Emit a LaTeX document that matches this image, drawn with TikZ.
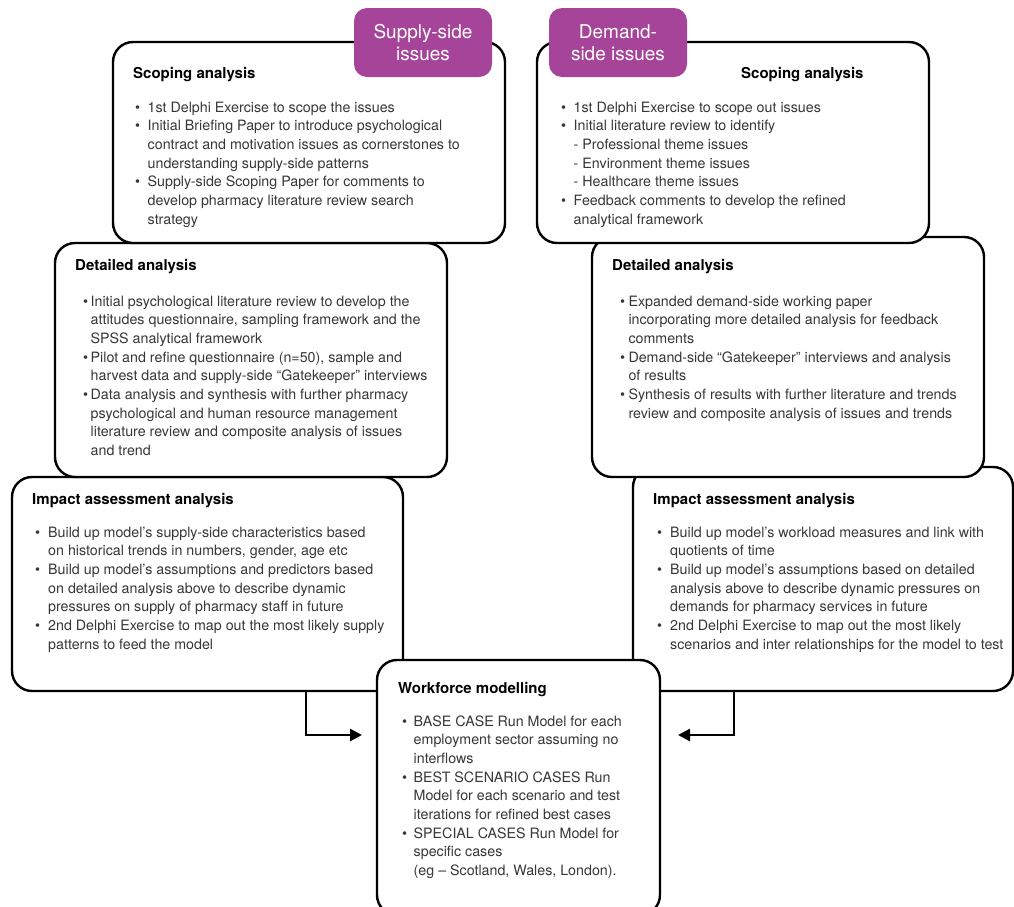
\documentclass[tikz,border=0pt]{standalone}
\usepackage{fontspec}
\setmainfont{TeX Gyre Heros}
\usepackage{tikz}
\usetikzlibrary{arrows.meta}
\definecolor{tagpurple}{RGB}{165,68,152}
\definecolor{bodygrey}{RGB}{55,55,55}
\newcommand\itm{\makebox[\bw][l]{\textbullet}&}
\newcommand\blist[2][12.5pt]{\def\bw{#1}\begin{tabular}[t]{@{}l@{}l@{}}#2\end{tabular}}

\begin{document}
\begin{tikzpicture}[x=1pt,y=-1pt,
  box/.style={draw, line width=2.4pt, rounded corners=20pt, fill=white, inner sep=0pt},
  tag/.style={fill=tagpurple, rounded corners=13pt, text=white, align=center, inner sep=0pt,
    minimum width=138, minimum height=69, font=\fontsize{19}{22}\selectfont},
  head/.style={anchor=base west, inner sep=0pt, font=\fontsize{15}{18}\selectfont\bfseries},
  body/.style={anchor=base west, inner sep=0pt, text=bodygrey, font=\fontsize{14.25}{18.7}\selectfont},
  flow/.style={line width=2.4pt, -{Triangle[length=12pt,width=12pt]}}]
\useasboundingbox (0,0) rectangle (1014,906);
\clip (0,0) rectangle (1014,906);

% boxes, back to front
\foreach \nm/\cx/\cy/\w/\h in {impL/207.5/584/391/214, impR/823/579/380/224,
  detL/251/360/392/234, detR/788/357/392/240,
  scopeL/309/142.5/392/201, scopeR/733/142.5/392/201, work/518.5/787.5/283/255}
  \node[box, minimum width=\w, minimum height=\h] (\nm) at (\cx,\cy) {};

\node[tag] (tagS) at (423,42.5) {Supply-side\\issues};
\node[tag] (tagD) at (618,42.5) {Demand-\\side issues};

\foreach \nm/\x/\y/\txt in {scopeLh/133/78/Scoping analysis, scopeRh/741/78/Scoping analysis,
  detLh/75/270/Detailed analysis, detRh/612/270/Detailed analysis,
  impLh/32/504/Impact assessment analysis, impRh/653/504/Impact assessment analysis,
  workh/398/693/Workforce modelling}
  \node[head] (\nm) at (\x,\y) {\txt};

\node[body] (scopeLt) at (135,112) {\blist{
\itm 1st Delphi Exercise to scope the issues\\
\itm Initial Briefing Paper to introduce psychological\\
& contract and motivation issues as cornerstones to\\
& understanding supply-side patterns\\
\itm Supply-side Scoping Paper for comments to\\
& develop pharmacy literature review search\\
& strategy}};
\node[body] (scopeRt) at (561,112) {\blist{
\itm 1st Delphi Exercise to scope out issues\\
\itm Initial literature review to identify\\
& - Professional theme issues\\
& - Environment theme issues\\
& - Healthcare theme issues\\
\itm Feedback comments to develop the refined\\
& analytical framework}};
\node[body] (detLt) at (83,306) {\blist[7.5pt]{
\itm Initial psychological literature review to develop the\\
& attitudes questionnaire,  sampling framework and the\\
& SPSS analytical framework\\
\itm Pilot and refine questionnaire (n=50), sample and\\
& harvest data and supply-side “Gatekeeper” interviews\\
\itm Data analysis and synthesis with further pharmacy\\
& psychological and human resource management\\
& literature review and composite analysis of issues\\
& and trend}};
\node[body] (detRt) at (620,306) {\blist[8.3pt]{
\itm Expanded demand-side working paper\\
& incorporating more detailed analysis for feedback\\
& comments\\
\itm Demand-side “Gatekeeper” interviews and analysis\\
& of results\\
\itm Synthesis of results with further literature and trends\\
& review and composite analysis of issues and trends}};
\node[body] (impLt) at (35,537) {\blist[13pt]{
\itm Build up model’s supply-side characteristics based\\
& on historical trends in numbers, gender, age etc\\
\itm Build up model’s assumptions and predictors based\\
& on detailed analysis above to describe dynamic\\
& pressures on supply of pharmacy staff in future\\
\itm 2nd Delphi Exercise to map out the most likely supply\\
& patterns to feed the model}};
\node[body] (impRt) at (657,537) {\blist[13pt]{
\itm Build up model’s workload measures and link with\\
& quotients of time\\
\itm Build up model’s assumptions based on detailed\\
& analysis above to describe dynamic pressures on\\
& demands for pharmacy services in future\\
\itm 2nd Delphi Exercise to map out the most likely\\
& scenarios and inter relationships for the model to test}};
\node[body] (workt) at (402,726) {\blist[11.5pt]{
\itm BASE CASE Run Model for each\\
& employment sector assuming no\\
& interflows\\
\itm BEST SCENARIO CASES Run\\
& Model for each scenario and test\\
& iterations for refined best cases\\
\itm SPECIAL CASES Run Model for\\
& specific cases\\
& (eg – Scotland, Wales, London).}};

% feeds into the model
\coordinate (outL) at (306,0);
\coordinate (inL) at (362,735);
\coordinate (outR) at (734,0);
\coordinate (inR) at (678,735);
\draw[flow] (impL.south -| outL) |- (inL);
\draw[flow] (impR.south -| outR) |- (inR);
\end{tikzpicture}
\end{document}
